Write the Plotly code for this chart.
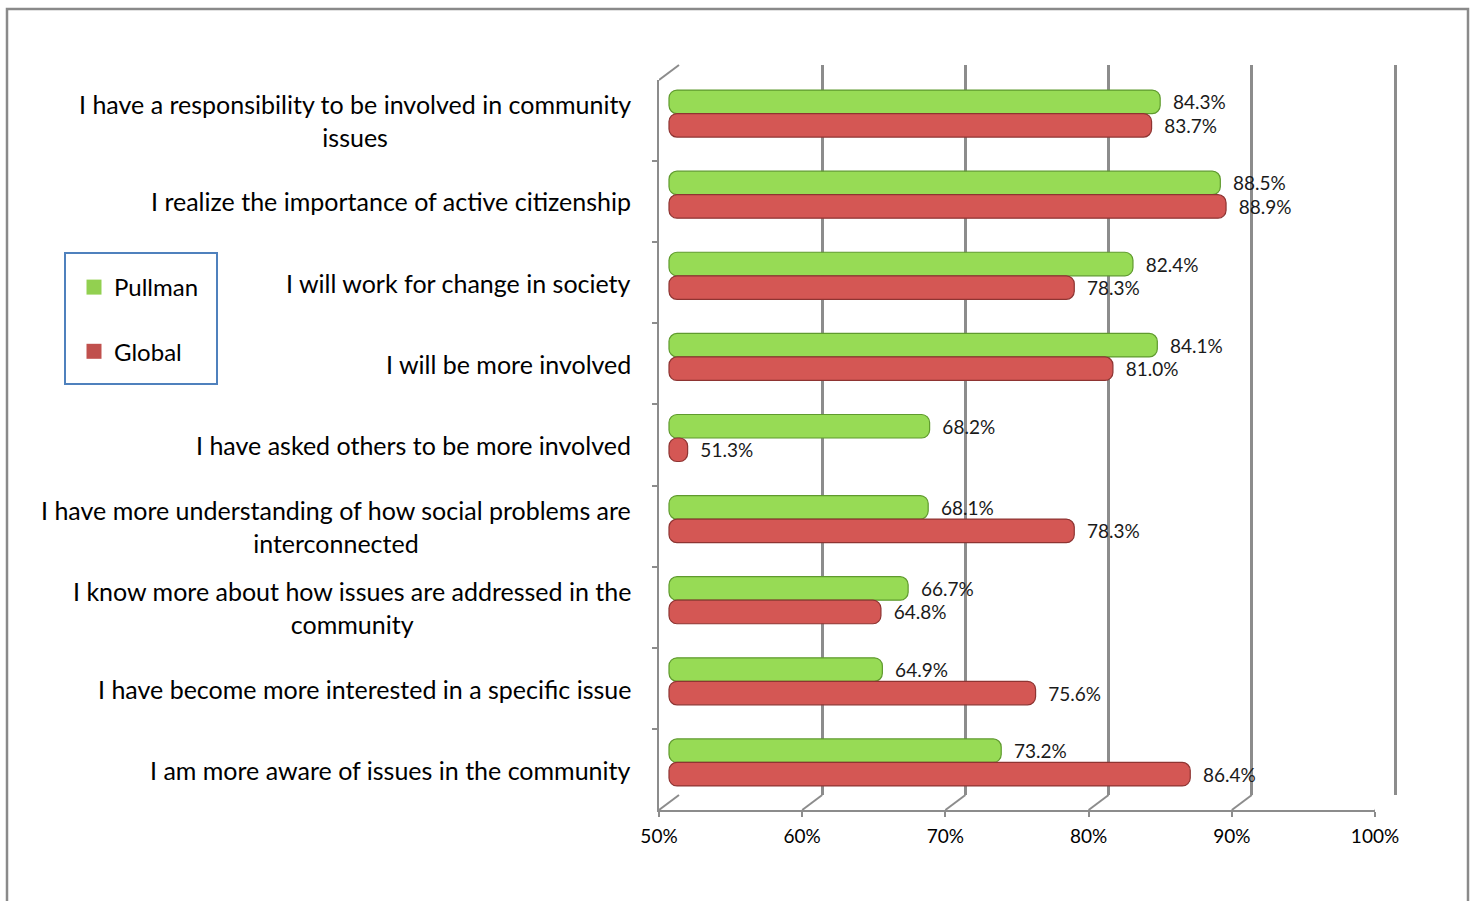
import plotly.graph_objects as go

categories = [
    "I have a responsibility to be involved in community<br>issues",
    "I realize the importance of active citizenship",
    "I will work for change in society",
    "I will be more involved",
    "I have asked others to be more involved",
    "I have more understanding of how social problems are<br>interconnected",
    "I know more about how issues are addressed in the<br>community",
    "I have become more interested in a specific issue",
    "I am more aware of issues in the community",
]
pullman = [84.3, 88.5, 82.4, 84.1, 68.2, 68.1, 66.7, 64.9, 73.2]
global_ = [83.7, 88.9, 78.3, 81.0, 51.3, 78.3, 64.8, 75.6, 86.4]
tick_vals = [50, 60, 70, 80, 90, 100]
tick_text = ["50%", "60%", "70%", "80%", "90%", "100%"]
axis_min = 50

W, H = 1476, 901
FONT = "Lato"
GRID = "#8c8c8c"


def px(x):
    return x / W


def py(y):
    return 1 - y / H


PPU = 716 / 50.0  # pixels per percentage point

fig = go.Figure()

# helper invisible traces so that the grid subplot and front-axis subplot exist
fig.add_trace(go.Scatter(x=global_, y=categories, xaxis="x", yaxis="y", mode="markers",
                         marker=dict(opacity=0), showlegend=False, hoverinfo="skip"))
fig.add_trace(go.Scatter(x=pullman, y=categories, xaxis="x2", yaxis="y2", mode="markers",
                         marker=dict(opacity=0), showlegend=False, hoverinfo="skip"))

series = [("Pullman", pullman, "#97db55", "#5f9a2e"),
          ("Global", global_, "#d45754", "#8e3432")]
legend_colors = {"Pullman": "#92d050", "Global": "#c0504d"}
for i, (name, vals, fill, edge) in enumerate(series):
    fig.add_trace(go.Bar(
        name=name,
        y=categories,
        x=[v - axis_min for v in vals],
        base=axis_min,
        customdata=vals,
        orientation="h",
        xaxis="x3", yaxis="y3",
        marker=dict(color=fill, line=dict(color=edge, width=1.2), cornerradius=8),
        texttemplate="\u00a0\u00a0%{customdata:.1f}%",
        textposition="outside",
        textfont=dict(family=FONT, size=19, color="#1a1a1a"),
        cliponaxis=False,
        showlegend=False,
        legendgroup=name,
        hovertemplate=name + ": %{customdata:.1f}%<extra></extra>",
    ))

# legend entries with square swatches
for name, _, _, _ in series:
    fig.add_trace(go.Scatter(
        name=name, x=[None], y=[None], xaxis="x3", yaxis="y3", mode="markers",
        marker=dict(symbol="square", size=15, color=legend_colors[name]),
        legendgroup=name, showlegend=True, hoverinfo="skip",
    ))

# category labels (centered multi-line, right-anchored)
for c in categories:
    fig.add_annotation(x=px(633), xref="paper", y=c, yref="y2", text=c,
                       xanchor="right", yanchor="middle", align="center",
                       showarrow=False, font=dict(family=FONT, size=25, color="#000000"))

shapes = []
# outer frame
shapes.append(dict(type="rect", xref="paper", yref="paper", x0=px(7), x1=px(1468),
                   y0=-0.05, y1=py(9), line=dict(color="#8a8a8a", width=2.5)))
# legend box
shapes.append(dict(type="rect", xref="paper", yref="paper", x0=px(65), x1=px(217),
                   y0=py(384), y1=py(253), line=dict(color="#4f81bd", width=2)))
# floor diagonals from front ticks to back wall
for v in tick_vals:
    shapes.append(dict(type="line", xref="x2", xsizemode="pixel", xanchor=v, x0=0, x1=20,
                       yref="paper", ysizemode="pixel", yanchor=py(810), y0=0, y1=15,
                       line=dict(color=GRID, width=2)))
# top-left wall diagonal
shapes.append(dict(type="line", xref="x2", xsizemode="pixel", xanchor=axis_min, x0=0, x1=20,
                   yref="paper", ysizemode="pixel", yanchor=py(80), y0=0, y1=15,
                   line=dict(color=GRID, width=2)))

fig.update_layout(
    width=W, height=H,
    margin=dict(l=0, r=0, t=0, b=0, autoexpand=False),
    paper_bgcolor="white", plot_bgcolor="rgba(0,0,0,0)",
    barmode="group", bargap=0.42, bargroupgap=0,
    showlegend=True,
    legend=dict(x=px(74), y=py(265), xanchor="left", yanchor="top",
                font=dict(family=FONT, size=24, color="#000000"),
                traceorder="grouped", tracegroupgap=30, bgcolor="rgba(0,0,0,0)",
                borderwidth=0, itemwidth=30),
    shapes=shapes,
    # back wall grid
    xaxis=dict(domain=[px(679), px(1400)], range=[axis_min, axis_min + 721 / PPU],
               anchor="y", tickvals=tick_vals, showgrid=True, gridcolor=GRID, gridwidth=2.5,
               showticklabels=False, ticks="", zeroline=False, showline=False),
    yaxis=dict(domain=[py(795), py(65)], anchor="x", type="category", visible=False,
               showgrid=False),
    # front axes
    xaxis2=dict(domain=[px(659), px(1375)], range=[50, 100], anchor="y2",
                tickvals=tick_vals, ticktext=tick_text, showgrid=False, zeroline=False,
                showline=True, linecolor=GRID, linewidth=2, ticks="outside", ticklen=5,
                tickcolor=GRID, tickwidth=2, ticklabelstandoff=3,
                tickfont=dict(family=FONT, size=19, color="#000000")),
    yaxis2=dict(domain=[py(810), py(80)], anchor="x2", type="category",
                categoryorder="array", categoryarray=categories, autorange="reversed",
                showgrid=False, showticklabels=False, showline=True, linecolor=GRID,
                linewidth=2, ticks="outside", ticklen=5, tickcolor=GRID, tickwidth=2,
                tickson="boundaries", zeroline=False),
    # bars plane
    xaxis3=dict(domain=[px(659), px(1395)],
                range=[axis_min - 10 / PPU, axis_min + 726 / PPU], anchor="y3",
                showgrid=False, showticklabels=False, zeroline=False, showline=False,
                ticks=""),
    yaxis3=dict(domain=[py(803), py(73)], anchor="x3", type="category",
                categoryorder="array", categoryarray=categories, autorange="reversed",
                showgrid=False, showticklabels=False, showline=False, ticks="",
                zeroline=False),
)

fig.write_html("out.html", config={"displayModeBar": False},
               post_script="document.body.style.margin='0';")
